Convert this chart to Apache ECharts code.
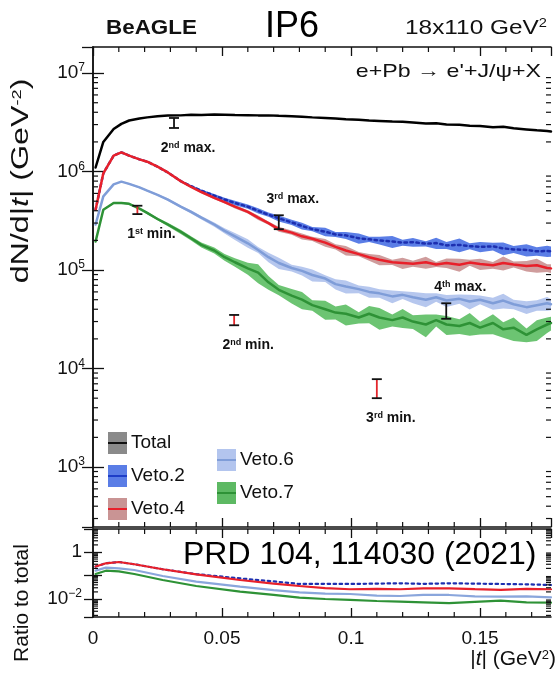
<!DOCTYPE html>
<html>
<head>
<meta charset="utf-8">
<script src="https://cdn.jsdelivr.net/npm/echarts@6/dist/echarts.min.js"></script>
<style>
  html, body { margin: 0; padding: 0; background: #fff; }
  #chart { width: 557px; height: 677px; }
</style>
</head>
<body>
<div id="chart"></div>
<script>
// |t| bins (GeV^2)
const tBins = [0.001, 0.004, 0.008, 0.011, 0.014, 0.018, 0.021, 0.025, 0.029, 0.034,
  0.038, 0.042, 0.047, 0.051, 0.055, 0.060, 0.064, 0.068, 0.072, 0.077,
  0.081, 0.085, 0.090, 0.094, 0.098, 0.103, 0.107, 0.111, 0.116, 0.120,
  0.124, 0.129, 0.133, 0.137, 0.142, 0.146, 0.150, 0.155, 0.159, 0.163,
  0.168, 0.172, 0.176, 0.1775];

// dN/d|t|
const total = [1.1e6, 2.0e6, 2.7e6, 3.05e6, 3.3e6, 3.45e6, 3.55e6, 3.65e6, 3.7e6, 3.72e6,
  3.78e6, 3.76e6, 3.8e6, 3.78e6, 3.76e6, 3.74e6, 3.72e6, 3.72e6, 3.68e6, 3.64e6,
  3.6e6, 3.55e6, 3.5e6, 3.45e6, 3.4e6, 3.36e6, 3.3e6, 3.27e6, 3.22e6, 3.2e6,
  3.15e6, 3.08e6, 3.1e6, 3.0e6, 2.98e6, 2.92e6, 2.9e6, 2.82e6, 2.85e6, 2.75e6,
  2.68e6, 2.62e6, 2.58e6, 2.55e6];
const veto2 = [4.1e5, 9.6e5, 1.45e6, 1.57e6, 1.45e6, 1.33e6, 1.26e6, 1.12e6, 9.8e5, 8.0e5,
  7.1e5, 6.4e5, 5.7e5, 5.2e5, 4.8e5, 4.4e5, 4.0e5, 3.65e5, 3.35e5, 3.05e5,
  2.8e5, 2.6e5, 2.45e5, 2.3e5, 2.25e5, 2.1e5, 2.05e5, 2.0e5, 1.95e5, 1.9e5,
  1.92e5, 1.85e5, 1.88e5, 1.78e5, 1.8e5, 1.75e5, 1.72e5, 1.74e5, 1.66e5, 1.62e5,
  1.6e5, 1.55e5, 1.56e5, 1.55e5];
const veto4 = [4.1e5, 9.6e5, 1.45e6, 1.57e6, 1.45e6, 1.33e6, 1.26e6, 1.12e6, 9.8e5, 8.0e5,
  7.0e5, 6.2e5, 5.4e5, 4.9e5, 4.4e5, 3.9e5, 3.4e5, 3.0e5, 2.6e5, 2.4e5,
  2.2e5, 2.08e5, 1.9e5, 1.72e5, 1.58e5, 1.45e5, 1.35e5, 1.27e5, 1.2e5, 1.18e5,
  1.16e5, 1.2e5, 1.14e5, 1.18e5, 1.13e5, 1.19e5, 1.15e5, 1.12e5, 1.18e5, 1.14e5,
  1.1e5, 1.12e5, 1.05e5, 1.04e5];
const veto6 = [2.9e5, 5.6e5, 7.4e5, 7.9e5, 7.5e5, 6.9e5, 6.4e5, 5.8e5, 5.2e5, 4.4e5,
  3.9e5, 3.4e5, 2.9e5, 2.5e5, 2.2e5, 1.87e5, 1.6e5, 1.35e5, 1.18e5, 1.05e5,
  9.8e4, 8.9e4, 8.2e4, 7.2e4, 6.8e4, 6.4e4, 6.0e4, 5.8e4, 5.4e4, 5.6e4,
  5.3e4, 5.0e4, 5.3e4, 4.9e4, 5.1e4, 4.8e4, 5.0e4, 4.6e4, 4.9e4, 4.5e4,
  4.2e4, 4.4e4, 4.6e4, 4.5e4];
const veto7 = [1.95e5, 4.1e5, 4.8e5, 4.8e5, 4.7e5, 4.2e5, 3.8e5, 3.3e5, 2.9e5, 2.45e5,
  2.1e5, 1.8e5, 1.58e5, 1.35e5, 1.2e5, 1.04e5, 9.4e4, 7.5e4, 6.3e4, 5.5e4,
  5.0e4, 4.4e4, 4.0e4, 3.7e4, 3.6e4, 3.3e4, 3.6e4, 3.3e4, 3.1e4, 3.3e4,
  3.0e4, 2.8e4, 3.1e4, 2.8e4, 2.7e4, 2.9e4, 2.6e4, 2.9e4, 2.5e4, 2.6e4,
  2.2e4, 2.5e4, 2.8e4, 2.9e4];

// relative width of the shaded uncertainty bands
const veto2Err = [0.01, 0.01, 0.01, 0.01, 0.01, 0.01, 0.01, 0.02, 0.02, 0.02,
  0.03, 0.03, 0.04, 0.04, 0.05, 0.05, 0.06, 0.05, 0.07, 0.06,
  0.08, 0.05, 0.10, 0.06, 0.08, 0.12, 0.06, 0.09, 0.14, 0.07,
  0.10, 0.06, 0.13, 0.08, 0.16, 0.07, 0.12, 0.09, 0.15, 0.08,
  0.14, 0.10, 0.13, 0.12];
const veto4Err = [0.01, 0.01, 0.01, 0.01, 0.01, 0.01, 0.01, 0.01, 0.02, 0.02,
  0.02, 0.03, 0.03, 0.03, 0.04, 0.04, 0.05, 0.04, 0.06, 0.05,
  0.07, 0.05, 0.09, 0.06, 0.11, 0.05, 0.08, 0.12, 0.06, 0.13,
  0.07, 0.14, 0.06, 0.11, 0.15, 0.07, 0.13, 0.08, 0.16, 0.07,
  0.12, 0.16, 0.09, 0.10];
const veto6Err = [0.01, 0.01, 0.01, 0.01, 0.02, 0.02, 0.02, 0.02, 0.03, 0.03,
  0.04, 0.04, 0.05, 0.06, 0.08, 0.10, 0.07, 0.11, 0.13, 0.08,
  0.10, 0.14, 0.08, 0.12, 0.15, 0.09, 0.13, 0.10, 0.15, 0.09,
  0.13, 0.16, 0.10, 0.14, 0.11, 0.17, 0.10, 0.14, 0.17, 0.11,
  0.15, 0.12, 0.16, 0.13];
const veto7Err = [0.01, 0.01, 0.02, 0.02, 0.02, 0.02, 0.03, 0.03, 0.04, 0.05,
  0.05, 0.06, 0.07, 0.08, 0.10, 0.14, 0.22, 0.16, 0.12, 0.17,
  0.20, 0.12, 0.22, 0.15, 0.24, 0.13, 0.20, 0.25, 0.14, 0.22,
  0.16, 0.26, 0.14, 0.22, 0.17, 0.26, 0.15, 0.23, 0.18, 0.27,
  0.16, 0.24, 0.18, 0.16];

// ratio to total (lower panel)
const ratioT = [0.001, 0.005, 0.010, 0.016, 0.027, 0.040, 0.057, 0.070, 0.080, 0.090,
  0.0996, 0.110, 0.119, 0.128, 0.138, 0.148, 0.158, 0.168, 0.1775];
const ratio2 = [0.24, 0.33, 0.375, 0.30, 0.184, 0.114, 0.075, 0.056, 0.0435, 0.044,
  0.0435, 0.045, 0.0465, 0.044, 0.0465, 0.045, 0.0435, 0.042, 0.0394];
const ratio4 = [0.24, 0.33, 0.375, 0.30, 0.184, 0.112, 0.064, 0.045, 0.0357, 0.029,
  0.0259, 0.027, 0.0259, 0.028, 0.0285, 0.026, 0.0242, 0.027, 0.0259];
const ratio6 = [0.16, 0.215, 0.20, 0.171, 0.095, 0.0545, 0.0334, 0.024, 0.019, 0.017,
  0.0163, 0.014, 0.0134, 0.015, 0.0148, 0.013, 0.0125, 0.013, 0.0118];
const ratio7 = [0.116, 0.16, 0.15, 0.116, 0.064, 0.0357, 0.0204, 0.015, 0.0114, 0.010,
  0.0091, 0.0082, 0.0077, 0.0072, 0.0066, 0.0075, 0.0085, 0.0072, 0.007];

// marked extrema with error bars
const markT = [0.0314, 0.072, 0.1369, 0.0172, 0.0547, 0.110];
const markLo = [2.77e6, 2.6e5, 3.2e4, 3.7e5, 2.75e4, 5.0e3];
const markHi = [3.5e6, 3.6e5, 4.6e4, 4.5e5, 3.5e4, 7.8e3];
const markNum = ['2', '3', '4', '1', '2', '3'];
const markSup = ['nd', 'rd', 'th', 'st', 'nd', 'rd'];
const markWord = ['max.', 'max.', 'max.', 'min.', 'min.', 'min.'];

const xMin = 0, xMax = 0.1775;
const yMin = 246, yMax = 1.84e7;
const rMin = 0.00171, rMax = 9.5;

const FONT = '"Liberation Sans", Arial, Helvetica, sans-serif';
const INK = '#111';

const chart = echarts.init(document.getElementById('chart'), null, { renderer: 'canvas' });

const pairs = arr => arr.map((v, i) => [tBins[i], v]);
const rPairs = arr => arr.map((v, i) => [ratioT[i], v]);

// shaded band drawn as one polygon through the axis scales
function band(vals, err, color) {
  const lo = vals.map((v, i) => v * (1 - err[i]));
  const hi = vals.map((v, i) => v * (1 + err[i]));
  return {
    type: 'custom', xAxisIndex: 0, yAxisIndex: 0, silent: true,
    data: [[tBins[0], vals[0]]],
    renderItem: (params, api) => {
      const pts = [];
      tBins.forEach((t, i) => pts.push(api.coord([t, lo[i]])));
      for (let i = tBins.length - 1; i >= 0; i--) pts.push(api.coord([tBins[i], hi[i]]));
      return { type: 'polygon', shape: { points: pts }, style: { fill: color } };
    }
  };
}

function line(name, data, color, dashed, xi, yi, w) {
  return {
    name: name, type: 'line', data: data, symbol: 'none', smooth: false, silent: true,
    xAxisIndex: xi, yAxisIndex: yi,
    lineStyle: { color: color, width: w, type: dashed ? [2.5, 3.5] : 'solid', cap: 'round' }
  };
}

function logLabel(v) {
  const e = Math.log10(v);
  const r = Math.round(e);
  if (Math.abs(e - r) > 1e-6) return '';
  return '10{s|' + r + '}';
}

const axisLineStyle = { lineStyle: { color: INK, width: 1.5 } };

// extra inward ticks: minor log ticks (2..9) and 0.01 steps on x
function tickSeries(xi, yi, lo, hi, decades) {
  return {
    type: 'custom', xAxisIndex: xi, yAxisIndex: yi, silent: true, z: 5,
    data: [[xMin, lo * 2]],
    renderItem: (params, api) => {
      const children = [];
      const st = { stroke: INK, lineWidth: 1.2 };
      for (let k = decades[0]; k <= decades[1]; k++) {
        for (let m = 2; m <= 9; m++) {
          const v = m * Math.pow(10, k);
          if (v <= lo || v >= hi) continue;
          const a = api.coord([xMin, v]);
          const b = api.coord([xMax, v]);
          children.push({ type: 'line', shape: { x1: a[0], y1: a[1], x2: a[0] + 5, y2: a[1] }, style: st });
          children.push({ type: 'line', shape: { x1: b[0] - 5, y1: b[1], x2: b[0], y2: b[1] }, style: st });
        }
      }
      for (let j = 1; j * 0.01 < xMax; j++) {
        if (j % 5 === 0) continue;
        const a = api.coord([j * 0.01, lo]);
        const b = api.coord([j * 0.01, hi]);
        children.push({ type: 'line', shape: { x1: a[0], y1: a[1], x2: a[0], y2: a[1] - 5 }, style: st });
        children.push({ type: 'line', shape: { x1: b[0], y1: b[1], x2: b[0], y2: b[1] + 5 }, style: st });
      }
      return { type: 'group', children: children };
    }
  };
}

const markSeries = {
  type: 'custom', xAxisIndex: 0, yAxisIndex: 0, silent: true, z: 10,
  data: markT.map((t, i) => [t, markLo[i], markHi[i]]),
  renderItem: (params, api) => {
    const i = params.dataIndex;
    const t = api.value(0);
    const pLo = api.coord([t, api.value(1)]);
    const pHi = api.coord([t, api.value(2)]);
    const isMin = markWord[i] === 'min.';
    const col = isMin ? '#e3262b' : '#111';
    const above = markWord[i] === 'max.' && i > 0;
    const st = { stroke: col, lineWidth: 1.8 };
    const x = pLo[0];
    const ty = above ? pHi[1] - 16 : pLo[1] + 20;
    return {
      type: 'group',
      children: [
        { type: 'line', shape: { x1: x, y1: pLo[1], x2: x, y2: pHi[1] }, style: st },
        { type: 'line', shape: { x1: x - 5, y1: pLo[1], x2: x + 5, y2: pLo[1] }, style: { stroke: INK, lineWidth: 1.8 } },
        { type: 'line', shape: { x1: x - 5, y1: pHi[1], x2: x + 5, y2: pHi[1] }, style: { stroke: INK, lineWidth: 1.8 } },
        {
          type: 'text', x: x + 14, y: ty,
          style: {
            text: markNum[i] + '{s|' + markSup[i] + '} ' + markWord[i],
            fontFamily: FONT, fontSize: 14, fontWeight: 'bold', fill: INK,
            align: 'center', verticalAlign: 'middle',
            rich: { s: { fontSize: 9, fontWeight: 'bold', fontFamily: FONT, verticalAlign: 'top', fill: INK } }
          }
        }
      ]
    };
  }
};

const legendItems = [
  { name: 'Total', box: '#8a8a8a', line: '#111', x: 108, y: 432 },
  { name: 'Veto.2', box: '#5a7de6', line: '#1d3dc8', x: 108, y: 465 },
  { name: 'Veto.4', box: '#c99494', line: '#e8202a', x: 108, y: 498 },
  { name: 'Veto.6', box: '#b3c5ee', line: '#7f9dd8', x: 217, y: 449 },
  { name: 'Veto.7', box: '#5db963', line: '#2e9236', x: 217, y: 482 }
];

const legendGraphics = [];
legendItems.forEach(it => {
  legendGraphics.push({ type: 'rect', left: it.x, top: it.y, shape: { width: 19, height: 22 }, style: { fill: it.box }, silent: true });
  legendGraphics.push({ type: 'rect', left: it.x, top: it.y + 10, shape: { width: 19, height: 2 }, style: { fill: it.line }, silent: true });
  legendGraphics.push({ type: 'text', left: it.x + 23, top: it.y + 1,
    style: { text: it.name, fontFamily: FONT, fontSize: 19, fill: INK }, silent: true });
});

const option = {
  animation: false,
  backgroundColor: '#fff',
  grid: [
    { left: 93, top: 47, width: 458, height: 480 },
    { left: 93, top: 529, width: 458, height: 88 }
  ],
  xAxis: [
    { gridIndex: 0, type: 'value', min: xMin, max: xMax, interval: 0.05, position: 'bottom',
      axisLine: axisLineStyle, axisTick: { inside: true, length: 9, lineStyle: { color: INK, width: 1.3 } },
      axisLabel: { show: false }, splitLine: { show: false } },
    { gridIndex: 0, type: 'value', min: xMin, max: xMax, interval: 0.05, position: 'top',
      axisLine: axisLineStyle, axisTick: { inside: true, length: 9, lineStyle: { color: INK, width: 1.3 } },
      axisLabel: { show: false }, splitLine: { show: false } },
    { gridIndex: 1, type: 'value', min: xMin, max: xMax, interval: 0.05, position: 'bottom',
      axisLine: axisLineStyle, axisTick: { inside: true, length: 9, lineStyle: { color: INK, width: 1.3 } },
      axisLabel: { showMaxLabel: false, fontFamily: FONT, fontSize: 19, color: INK, margin: 12,
        formatter: v => (v === 0 ? '0' : String(+v.toFixed(2))) },
      splitLine: { show: false } },
    { gridIndex: 1, type: 'value', min: xMin, max: xMax, interval: 0.05, position: 'top',
      axisLine: axisLineStyle, axisTick: { inside: true, length: 9, lineStyle: { color: INK, width: 1.3 } },
      axisLabel: { show: false }, splitLine: { show: false } }
  ],
  yAxis: [
    { gridIndex: 0, type: 'log', logBase: 10, min: yMin, max: yMax, position: 'left',
      axisLine: axisLineStyle, axisTick: { inside: true, length: 11, lineStyle: { color: INK, width: 1.3 } },
      splitLine: { show: false },
      axisLabel: { formatter: logLabel, showMinLabel: false, showMaxLabel: false, margin: 8,
        fontFamily: FONT, fontSize: 19, color: INK, lineHeight: 22,
        rich: { s: { fontFamily: FONT, fontSize: 12, color: INK, verticalAlign: 'top', lineHeight: 12 } } } },
    { gridIndex: 0, type: 'log', logBase: 10, min: yMin, max: yMax, position: 'right',
      axisLine: axisLineStyle, axisTick: { inside: true, length: 11, lineStyle: { color: INK, width: 1.3 } },
      splitLine: { show: false }, axisLabel: { show: false } },
    { gridIndex: 1, type: 'log', logBase: 10, min: rMin, max: rMax, position: 'left',
      axisLine: axisLineStyle, axisTick: { inside: true, length: 9, lineStyle: { color: INK, width: 1.3 } },
      splitLine: { show: false },
      axisLabel: { showMinLabel: false, showMaxLabel: false, margin: 11,
        fontFamily: FONT, fontSize: 19, color: INK, lineHeight: 22,
        formatter: v => {
          const e = Math.log10(v), r = Math.round(e);
          if (Math.abs(e - r) > 1e-6) return '';
          if (r === 0) return '1';
          if (r === -2) return '10{s|\u22122}';
          return '';
        },
        rich: { s: { fontFamily: FONT, fontSize: 12, color: INK, verticalAlign: 'top', lineHeight: 12 } } } },
    { gridIndex: 1, type: 'log', logBase: 10, min: rMin, max: rMax, position: 'right',
      axisLine: axisLineStyle, axisTick: { inside: true, length: 9, lineStyle: { color: INK, width: 1.3 } },
      splitLine: { show: false }, axisLabel: { show: false } }
  ],
  series: [
    band(veto7, veto7Err, '#6cc472'),
    band(veto6, veto6Err, '#b6c7ee'),
    band(veto4, veto4Err, '#cf9c9c'),
    band(veto2, veto2Err, '#5b7ee6'),
    line('Veto.7', pairs(veto7), '#2e9236', false, 0, 0, 2.5),
    line('Veto.6', pairs(veto6), '#7f9dd8', false, 0, 0, 2.5),
    line('Veto.2', pairs(veto2), '#1d2fb0', true, 0, 0, 2.5),
    line('Veto.4', pairs(veto4), '#e8202a', false, 0, 0, 2.5),
    line('Total', pairs(total), '#000', false, 0, 0, 2.5),
    line('r7', rPairs(ratio7), '#2e9236', false, 2, 2, 2.2),
    line('r6', rPairs(ratio6), '#8aa6dc', false, 2, 2, 2.2),
    line('r2', rPairs(ratio2), '#1d2fb0', true, 2, 2, 2.2),
    line('r4', rPairs(ratio4), '#e8202a', false, 2, 2, 2.2),
    tickSeries(0, 0, yMin, yMax, [2, 7]),
    tickSeries(2, 2, rMin, rMax, [-3, 0]),
    markSeries
  ],
  graphic: [
    { type: 'text', left: 106, top: 18, scaleX: 1.12, silent: true,
      style: { text: 'BeAGLE', fontFamily: FONT, fontSize: 20, fontWeight: 'bold', fill: INK } },
    { type: 'text', x: 292, y: 27, silent: true,
      style: { text: 'IP6', fontFamily: FONT, fontSize: 36, fill: '#000', align: 'center', verticalAlign: 'middle' } },
    { type: 'text', x: 547, y: 28, scaleX: 1.22, silent: true,
      style: { text: '18x110 GeV{s|2}', fontFamily: FONT, fontSize: 20, fill: INK, align: 'right', verticalAlign: 'middle',
        rich: { s: { fontFamily: FONT, fontSize: 12, fill: INK, verticalAlign: 'top' } } } },
    { type: 'text', x: 541, y: 72, scaleX: 1.22, silent: true,
      style: { text: 'e+Pb \u2192 e\'+J/\u03c8+X', fontFamily: FONT, fontSize: 19, fill: INK, align: 'right', verticalAlign: 'middle' } },
    { type: 'text', x: 183, y: 555, silent: true, z: 50,
      style: { text: 'PRD 104, 114030 (2021)', fontFamily: FONT, fontSize: 32, fill: '#000', align: 'left', verticalAlign: 'middle' } },
    { type: 'text', x: 22, y: 181, rotation: Math.PI / 2, scaleX: 1.4, silent: true,
      style: { text: 'dN/d|{i|t}| (GeV{s|-2})', fontFamily: FONT, fontSize: 23, fill: INK, align: 'center', verticalAlign: 'middle',
        rich: { i: { fontFamily: FONT, fontSize: 23, fontStyle: 'italic', fill: INK },
                s: { fontFamily: FONT, fontSize: 13, fill: INK, verticalAlign: 'top' } } } },
    { type: 'text', x: 22, y: 603, rotation: Math.PI / 2, silent: true,
      style: { text: 'Ratio to total', fontFamily: FONT, fontSize: 21, fill: INK, align: 'center', verticalAlign: 'middle' } },
    { type: 'text', x: 556, y: 659, silent: true,
      style: { text: '|{i|t}| (GeV{s|2})', fontFamily: FONT, fontSize: 21, fill: INK, align: 'right', verticalAlign: 'middle',
        rich: { i: { fontFamily: FONT, fontSize: 21, fontStyle: 'italic', fill: INK },
                s: { fontFamily: FONT, fontSize: 13, fill: INK, verticalAlign: 'top' } } } },
    ...legendGraphics
  ]
};

chart.setOption(option);
</script>
</body>
</html>
